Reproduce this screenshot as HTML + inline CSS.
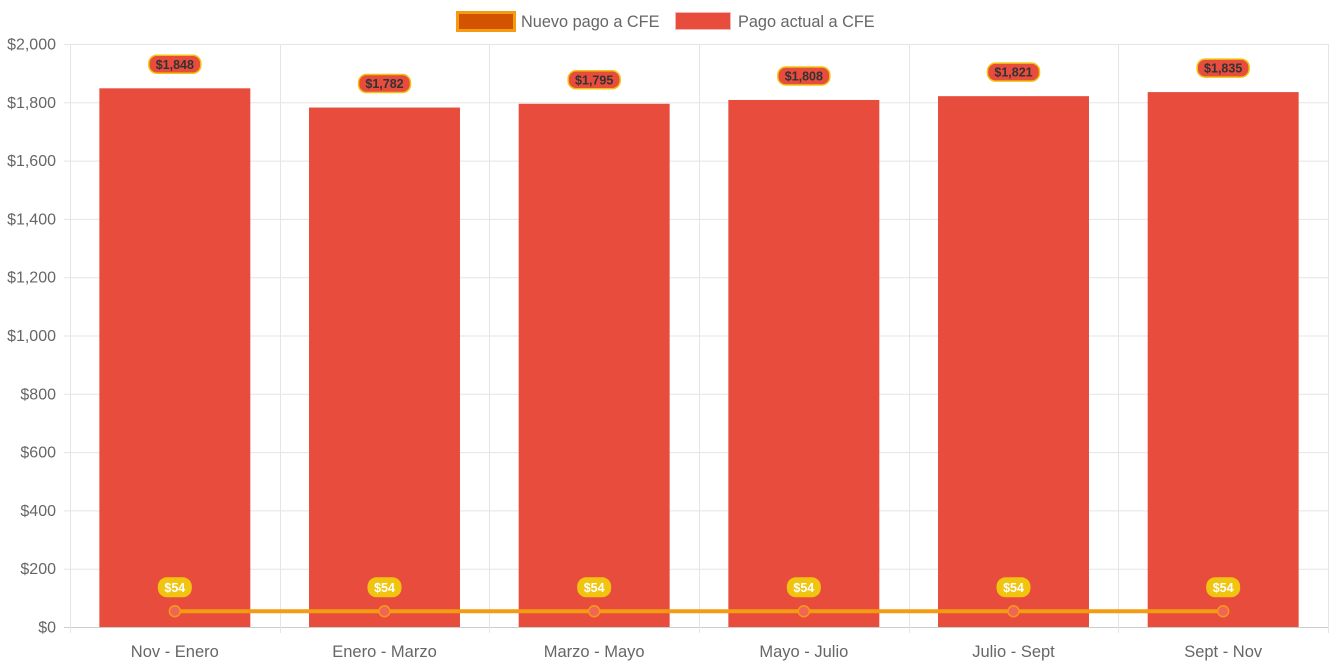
<!DOCTYPE html>
<html><head><meta charset="utf-8"><style>
body{margin:0;background:#fff;}
svg{display:block;font-family:"Liberation Sans",Arial,sans-serif;}
</style></head><body>
<svg id="chart" width="1335" height="666">
<g id="legend">
 <g>
  <rect x="457.5" y="12.5" width="57" height="18" fill="#d35400" stroke="#f39c12" stroke-width="3"/>
  <text x="521" y="27" font-size="16.3" fill="#666">Nuevo pago a CFE</text>
 </g>
 <g>
  <rect x="675.5" y="12.5" width="55" height="17" fill="#e74c3c" stroke="#f5b7b1" stroke-width="1"/>
  <text x="738" y="27" font-size="16.3" fill="#666">Pago actual a CFE</text>
 </g>
</g>
<g id="grid"></g><g id="bars"></g><g id="line"></g><g id="labels"></g>
</svg>
<script>
const categories=["Nov - Enero","Enero - Marzo","Marzo - Mayo","Mayo - Julio","Julio - Sept","Sept - Nov"];
const pagoActual=[1848,1782,1795,1808,1821,1835];
const nuevoPago=[54,54,54,54,54,54];
const yTicks=[0,200,400,600,800,1000,1200,1400,1600,1800,2000];
const NS="http://www.w3.org/2000/svg";
const X0=70,X1=1328,Y0=627,Y1=44,YMAX=2000;
const bw=(X1-X0)/categories.length;
const y=v=>Y0-(v/YMAX)*(Y0-Y1);
const xc=i=>X0+bw*(i+0.5);
function mk(tag,attrs,parent,txt){const e=document.createElementNS(NS,tag);for(const k in attrs)e.setAttribute(k,attrs[k]);if(txt!==undefined)e.textContent=txt;parent.appendChild(e);return e;}
const grid=document.getElementById('grid'),bars=document.getElementById('bars'),line=document.getElementById('line'),labels=document.getElementById('labels');
const fmt=v=>'$'+v.toLocaleString('en-US');
yTicks.forEach(t=>{
 const l=mk('line',{x1:X0-6,x2:X1,y1:y(t)+0.5,y2:y(t)+0.5,stroke:t===0?'#ccc':'#e5e5e5','stroke-width':1},grid);
 
 
 const tx=mk('text',{x:X0-14,y:y(t)+5.5,'text-anchor':'end','font-size':16,fill:'#666'},grid,fmt(t));
 
 
});
for(let i=0;i<=categories.length;i++){
 const x=Math.round(X0+bw*i)+0.5;
 const l=mk('line',{x1:x,x2:x,y1:Y1,y2:Y0+6,stroke:'#e5e5e5','stroke-width':1},grid);
 
 
}
categories.forEach((c,i)=>{
 const tx=mk('text',{x:xc(i),y:657,'text-anchor':'middle','font-size':16.5,fill:'#666'},grid,c);
 
 
 const w=bw*0.72;
 const r=mk('rect',{x:xc(i)-w/2,y:y(pagoActual[i]),width:w,height:Y0-y(pagoActual[i]),fill:'#e74c3c'},bars);
 
 
 const ly=y(pagoActual[i])-24;
 const g=mk('g',{},labels);
 
 
 mk('rect',{x:xc(i)-26,y:ly-9,width:52,height:18,rx:8,fill:'#e74c3c',stroke:'#f1c40f','stroke-width':1.5},g);
 mk('text',{x:xc(i),y:ly+4.5,'text-anchor':'middle','font-size':12.5,'font-weight':'bold',fill:'#333'},g,fmt(pagoActual[i]));
});
const pts=nuevoPago.map((v,i)=>xc(i)+','+y(v)).join(' ');
const pl=mk('polyline',{points:pts,fill:'none',stroke:'#f39c12','stroke-width':4},line);


nuevoPago.forEach((v,i)=>{
 const c=mk('circle',{cx:xc(i),cy:y(v),r:5.5,fill:'#f1645a',stroke:'#f39c12','stroke-width':1.5},line);
 
 
 const ly=y(v)-24;
 const g=mk('g',{},labels);
 
 
 mk('rect',{x:xc(i)-17,y:ly-10,width:34,height:20,rx:9,fill:'#f1c40f'},g);
 mk('text',{x:xc(i),y:ly+4.5,'text-anchor':'middle','font-size':12.5,'font-weight':'bold',fill:'#fff'},g,fmt(v));
});
</script>
</body></html>
